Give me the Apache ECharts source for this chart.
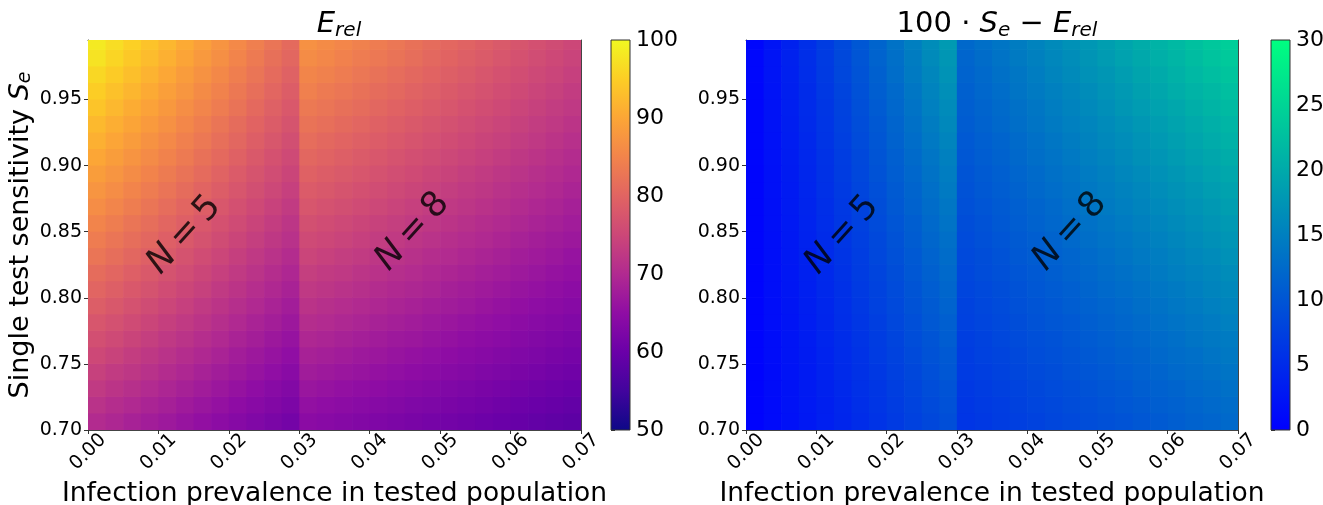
<!DOCTYPE html>
<html>
<head>
<meta charset="utf-8">
<script src="https://cdn.jsdelivr.net/npm/echarts@6/dist/echarts.min.js"></script>
<style>
  html, body { margin: 0; padding: 0; background: #fff; }
  #chart { width: 1323px; height: 505px; }
</style>
</head>
<body>
<div id="chart"></div>
<script>
// ---- data ----
// cell starts along the prevalence axis (width 0.0025) and sensitivity axis (height 0.0125)
const prevalenceStarts = [0.0000, 0.0025, 0.0050, 0.0075, 0.0100, 0.0125, 0.0150, 0.0175, 0.0200, 0.0225,
  0.0250, 0.0275, 0.0300, 0.0325, 0.0350, 0.0375, 0.0400, 0.0425, 0.0450, 0.0475, 0.0500, 0.0525,
  0.0550, 0.0575, 0.0600, 0.0625, 0.0650, 0.0675];
const sensitivityStarts = [0.7000, 0.7125, 0.7250, 0.7375, 0.7500, 0.7625, 0.7750, 0.7875, 0.8000, 0.8125,
  0.8250, 0.8375, 0.8500, 0.8625, 0.8750, 0.8875, 0.9000, 0.9125, 0.9250, 0.9375, 0.9500, 0.9625,
  0.9750, 0.9875];

// E_rel, rows from bottom (Se 0.70) to top
const eRel = [
  [70.2, 69.4, 68.6, 67.8, 67.0, 66.2, 65.4, 64.6, 63.8, 63.0, 62.2, 61.4, 64.4, 64.0, 63.6, 63.2, 62.8, 62.4, 62.0, 61.6, 61.2, 60.8, 60.4, 60.0, 59.6, 59.2, 58.8, 58.4],
  [71.5, 70.6, 69.8, 69.0, 68.2, 67.3, 66.5, 65.7, 64.8, 64.0, 63.2, 62.4, 65.5, 65.0, 64.6, 64.2, 63.8, 63.4, 62.9, 62.5, 62.1, 61.7, 61.3, 60.8, 60.4, 60.0, 59.6, 59.2],
  [72.7, 71.8, 71.0, 70.1, 69.3, 68.4, 67.6, 66.7, 65.9, 65.0, 64.1, 63.3, 66.5, 66.1, 65.6, 65.2, 64.8, 64.3, 63.9, 63.5, 63.0, 62.6, 62.1, 61.7, 61.3, 60.8, 60.4, 60.0],
  [73.9, 73.0, 72.2, 71.3, 70.4, 69.5, 68.6, 67.7, 66.9, 66.0, 65.1, 64.2, 67.5, 67.1, 66.6, 66.2, 65.7, 65.3, 64.8, 64.4, 63.9, 63.5, 63.0, 62.6, 62.1, 61.7, 61.2, 60.8],
  [75.2, 74.3, 73.3, 72.4, 71.5, 70.6, 69.7, 68.8, 67.8, 66.9, 66.0, 65.1, 68.5, 68.1, 67.6, 67.1, 66.7, 66.2, 65.7, 65.3, 64.8, 64.3, 63.9, 63.4, 63.0, 62.5, 62.0, 61.6],
  [76.4, 75.5, 74.5, 73.6, 72.6, 71.7, 70.7, 69.8, 68.8, 67.9, 66.9, 66.0, 69.5, 69.1, 68.6, 68.1, 67.6, 67.1, 66.7, 66.2, 65.7, 65.2, 64.7, 64.3, 63.8, 63.3, 62.8, 62.3],
  [77.6, 76.7, 75.7, 74.7, 73.7, 72.8, 71.8, 70.8, 69.8, 68.8, 67.9, 66.9, 70.6, 70.1, 69.6, 69.1, 68.6, 68.1, 67.6, 67.1, 66.6, 66.1, 65.6, 65.1, 64.6, 64.1, 63.6, 63.1],
  [78.9, 77.9, 76.9, 75.8, 74.8, 73.8, 72.8, 71.8, 70.8, 69.8, 68.8, 67.8, 71.6, 71.0, 70.5, 70.0, 69.5, 69.0, 68.5, 68.0, 67.5, 67.0, 66.4, 65.9, 65.4, 64.9, 64.4, 63.9],
  [80.1, 79.1, 78.0, 77.0, 75.9, 74.9, 73.9, 72.8, 71.8, 70.7, 69.7, 68.7, 72.6, 72.0, 71.5, 71.0, 70.4, 69.9, 69.4, 68.9, 68.3, 67.8, 67.3, 66.8, 66.2, 65.7, 65.2, 64.6],
  [81.3, 80.3, 79.2, 78.1, 77.0, 76.0, 74.9, 73.8, 72.8, 71.7, 70.6, 69.5, 73.6, 73.0, 72.5, 71.9, 71.4, 70.8, 70.3, 69.7, 69.2, 68.7, 68.1, 67.6, 67.0, 66.5, 65.9, 65.4],
  [82.6, 81.5, 80.4, 79.3, 78.2, 77.0, 75.9, 74.8, 73.7, 72.6, 71.5, 70.4, 74.6, 74.0, 73.4, 72.9, 72.3, 71.7, 71.2, 70.6, 70.1, 69.5, 68.9, 68.4, 67.8, 67.3, 66.7, 66.1],
  [83.8, 82.7, 81.5, 80.4, 79.2, 78.1, 77.0, 75.8, 74.7, 73.6, 72.4, 71.3, 75.5, 75.0, 74.4, 73.8, 73.2, 72.7, 72.1, 71.5, 70.9, 70.3, 69.8, 69.2, 68.6, 68.0, 67.4, 66.9],
  [85.0, 83.9, 82.7, 81.5, 80.3, 79.2, 78.0, 76.8, 75.7, 74.5, 73.3, 72.1, 76.5, 75.9, 75.3, 74.7, 74.1, 73.6, 73.0, 72.4, 71.8, 71.2, 70.6, 70.0, 69.4, 68.8, 68.2, 67.6],
  [86.3, 85.1, 83.9, 82.6, 81.4, 80.2, 79.0, 77.8, 76.6, 75.4, 74.2, 73.0, 77.5, 76.9, 76.3, 75.7, 75.1, 74.4, 73.8, 73.2, 72.6, 72.0, 71.4, 70.8, 70.2, 69.5, 68.9, 68.3],
  [87.5, 86.3, 85.0, 83.8, 82.5, 81.3, 80.0, 78.8, 77.6, 76.3, 75.1, 73.8, 78.5, 77.9, 77.2, 76.6, 76.0, 75.3, 74.7, 74.1, 73.4, 72.8, 72.2, 71.5, 70.9, 70.3, 69.7, 69.0],
  [88.7, 87.5, 86.2, 84.9, 83.6, 82.3, 81.1, 79.8, 78.5, 77.2, 76.0, 74.7, 79.5, 78.8, 78.2, 77.5, 76.9, 76.2, 75.6, 74.9, 74.3, 73.6, 73.0, 72.3, 71.7, 71.0, 70.4, 69.7],
  [90.0, 88.7, 87.3, 86.0, 84.7, 83.4, 82.1, 80.8, 79.5, 78.1, 76.8, 75.5, 80.4, 79.8, 79.1, 78.4, 77.8, 77.1, 76.4, 75.8, 75.1, 74.4, 73.8, 73.1, 72.4, 71.8, 71.1, 70.4],
  [91.2, 89.8, 88.5, 87.1, 85.8, 84.4, 83.1, 81.7, 80.4, 79.0, 77.7, 76.3, 81.4, 80.7, 80.0, 79.3, 78.7, 78.0, 77.3, 76.6, 75.9, 75.2, 74.5, 73.9, 73.2, 72.5, 71.8, 71.1],
  [92.4, 91.0, 89.7, 88.3, 86.9, 85.5, 84.1, 82.7, 81.3, 79.9, 78.6, 77.2, 82.4, 81.7, 81.0, 80.3, 79.5, 78.8, 78.1, 77.4, 76.7, 76.0, 75.3, 74.6, 73.9, 73.2, 72.5, 71.8],
  [93.7, 92.2, 90.8, 89.4, 88.0, 86.5, 85.1, 83.7, 82.3, 80.8, 79.4, 78.0, 83.3, 82.6, 81.9, 81.2, 80.4, 79.7, 79.0, 78.3, 77.5, 76.8, 76.1, 75.4, 74.6, 73.9, 73.2, 72.5],
  [94.9, 93.4, 92.0, 90.5, 89.0, 87.6, 86.1, 84.7, 83.2, 81.7, 80.3, 78.8, 84.3, 83.5, 82.8, 82.1, 81.3, 80.6, 79.8, 79.1, 78.3, 77.6, 76.9, 76.1, 75.4, 74.6, 73.9, 73.1],
  [96.1, 94.6, 93.1, 91.6, 90.1, 88.6, 87.1, 85.6, 84.1, 82.6, 81.1, 79.6, 85.2, 84.5, 83.7, 82.9, 82.2, 81.4, 80.7, 79.9, 79.1, 78.4, 77.6, 76.8, 76.1, 75.3, 74.6, 73.8],
  [97.4, 95.8, 94.3, 92.7, 91.2, 89.7, 88.1, 86.6, 85.0, 83.5, 81.9, 80.4, 86.2, 85.4, 84.6, 83.8, 83.1, 82.3, 81.5, 80.7, 79.9, 79.1, 78.4, 77.6, 76.8, 76.0, 75.2, 74.4],
  [98.3, 96.8, 95.2, 93.6, 92.1, 90.5, 88.9, 87.3, 85.8, 84.2, 82.6, 81.0, 86.9, 86.1, 85.3, 84.5, 83.7, 82.9, 82.1, 81.3, 80.5, 79.8, 79.0, 78.2, 77.4, 76.6, 75.8, 75.0]
];

// 100*Se - E_rel, rows from bottom to top
const seMinusERel = [
  [0.4, 1.2, 2.0, 2.8, 3.6, 4.4, 5.2, 6.0, 6.8, 7.6, 8.4, 9.2, 6.2, 6.6, 7.0, 7.4, 7.8, 8.2, 8.6, 9.0, 9.4, 9.8, 10.2, 10.6, 11.1, 11.5, 11.9, 12.3],
  [0.4, 1.2, 2.1, 2.9, 3.7, 4.5, 5.4, 6.2, 7.0, 7.9, 8.7, 9.5, 6.4, 6.8, 7.2, 7.7, 8.1, 8.5, 8.9, 9.3, 9.8, 10.2, 10.6, 11.0, 11.4, 11.9, 12.3, 12.7],
  [0.4, 1.3, 2.1, 3.0, 3.9, 4.7, 5.6, 6.4, 7.3, 8.1, 9.0, 9.8, 6.6, 7.1, 7.5, 7.9, 8.4, 8.8, 9.2, 9.7, 10.1, 10.5, 11.0, 11.4, 11.8, 12.3, 12.7, 13.2],
  [0.4, 1.3, 2.2, 3.1, 4.0, 4.9, 5.8, 6.6, 7.5, 8.4, 9.3, 10.2, 6.9, 7.3, 7.8, 8.2, 8.7, 9.1, 9.6, 10.0, 10.5, 10.9, 11.4, 11.8, 12.3, 12.7, 13.2, 13.6],
  [0.5, 1.4, 2.3, 3.2, 4.1, 5.0, 5.9, 6.9, 7.8, 8.7, 9.6, 10.5, 7.1, 7.6, 8.0, 8.5, 9.0, 9.4, 9.9, 10.3, 10.8, 11.3, 11.7, 12.2, 12.7, 13.1, 13.6, 14.1],
  [0.5, 1.4, 2.4, 3.3, 4.3, 5.2, 6.1, 7.1, 8.0, 9.0, 9.9, 10.9, 7.3, 7.8, 8.3, 8.8, 9.3, 9.7, 10.2, 10.7, 11.2, 11.7, 12.1, 12.6, 13.1, 13.6, 14.1, 14.5],
  [0.5, 1.5, 2.4, 3.4, 4.4, 5.4, 6.3, 7.3, 8.3, 9.3, 10.3, 11.2, 7.6, 8.1, 8.6, 9.1, 9.6, 10.1, 10.5, 11.0, 11.5, 12.0, 12.5, 13.0, 13.5, 14.0, 14.5, 15.0],
  [0.5, 1.5, 2.5, 3.5, 4.5, 5.5, 6.6, 7.6, 8.6, 9.6, 10.6, 11.6, 7.8, 8.3, 8.8, 9.4, 9.9, 10.4, 10.9, 11.4, 11.9, 12.4, 12.9, 13.4, 14.0, 14.5, 15.0, 15.5],
  [0.5, 1.6, 2.6, 3.6, 4.7, 5.7, 6.8, 7.8, 8.8, 9.9, 10.9, 12.0, 8.1, 8.6, 9.1, 9.6, 10.2, 10.7, 11.2, 11.8, 12.3, 12.8, 13.3, 13.9, 14.4, 14.9, 15.5, 16.0],
  [0.5, 1.6, 2.7, 3.8, 4.8, 5.9, 7.0, 8.0, 9.1, 10.2, 11.3, 12.3, 8.3, 8.9, 9.4, 10.0, 10.5, 11.0, 11.6, 12.1, 12.7, 13.2, 13.8, 14.3, 14.9, 15.4, 15.9, 16.5],
  [0.6, 1.7, 2.8, 3.9, 5.0, 6.1, 7.2, 8.3, 9.4, 10.5, 11.6, 12.7, 8.6, 9.1, 9.7, 10.3, 10.8, 11.4, 11.9, 12.5, 13.1, 13.6, 14.2, 14.7, 15.3, 15.9, 16.4, 17.0],
  [0.6, 1.7, 2.8, 4.0, 5.1, 6.3, 7.4, 8.5, 9.7, 10.8, 12.0, 13.1, 8.8, 9.4, 10.0, 10.6, 11.1, 11.7, 12.3, 12.9, 13.5, 14.0, 14.6, 15.2, 15.8, 16.4, 16.9, 17.5],
  [0.6, 1.8, 2.9, 4.1, 5.3, 6.5, 7.6, 8.8, 10.0, 11.1, 12.3, 13.5, 9.1, 9.7, 10.3, 10.9, 11.5, 12.1, 12.7, 13.3, 13.9, 14.5, 15.1, 15.6, 16.2, 16.8, 17.4, 18.0],
  [0.6, 1.8, 3.0, 4.2, 5.4, 6.6, 7.8, 9.1, 10.3, 11.5, 12.7, 13.9, 9.4, 10.0, 10.6, 11.2, 11.8, 12.4, 13.0, 13.7, 14.3, 14.9, 15.5, 16.1, 16.7, 17.3, 17.9, 18.6],
  [0.6, 1.9, 3.1, 4.3, 5.6, 6.8, 8.1, 9.3, 10.6, 11.8, 13.0, 14.3, 9.6, 10.3, 10.9, 11.5, 12.2, 12.8, 13.4, 14.1, 14.7, 15.3, 15.9, 16.6, 17.2, 17.8, 18.5, 19.1],
  [0.6, 1.9, 3.2, 4.5, 5.8, 7.0, 8.3, 9.6, 10.9, 12.1, 13.4, 14.7, 9.9, 10.6, 11.2, 11.9, 12.5, 13.2, 13.8, 14.5, 15.1, 15.8, 16.4, 17.0, 17.7, 18.3, 19.0, 19.6],
  [0.7, 2.0, 3.3, 4.6, 5.9, 7.2, 8.5, 9.9, 11.2, 12.5, 13.8, 15.1, 10.2, 10.9, 11.5, 12.2, 12.9, 13.5, 14.2, 14.9, 15.5, 16.2, 16.9, 17.5, 18.2, 18.9, 19.5, 20.2],
  [0.7, 2.0, 3.4, 4.7, 6.1, 7.4, 8.8, 10.1, 11.5, 12.8, 14.2, 15.5, 10.5, 11.2, 11.8, 12.5, 13.2, 13.9, 14.6, 15.3, 16.0, 16.6, 17.3, 18.0, 18.7, 19.4, 20.1, 20.8],
  [0.7, 2.1, 3.5, 4.9, 6.2, 7.6, 9.0, 10.4, 11.8, 13.2, 14.6, 16.0, 10.8, 11.5, 12.2, 12.9, 13.6, 14.3, 15.0, 15.7, 16.4, 17.1, 17.8, 18.5, 19.2, 19.9, 20.6, 21.3],
  [0.7, 2.1, 3.6, 5.0, 6.4, 7.8, 9.3, 10.7, 12.1, 13.5, 15.0, 16.4, 11.0, 11.8, 12.5, 13.2, 13.9, 14.7, 15.4, 16.1, 16.8, 17.6, 18.3, 19.0, 19.7, 20.5, 21.2, 21.9],
  [0.7, 2.2, 3.7, 5.1, 6.6, 8.0, 9.5, 11.0, 12.4, 13.9, 15.4, 16.8, 11.3, 12.1, 12.8, 13.6, 14.3, 15.1, 15.8, 16.5, 17.3, 18.0, 18.8, 19.5, 20.3, 21.0, 21.7, 22.5],
  [0.8, 2.3, 3.8, 5.3, 6.8, 8.3, 9.8, 11.3, 12.8, 14.3, 15.8, 17.3, 11.6, 12.4, 13.2, 13.9, 14.7, 15.5, 16.2, 17.0, 17.7, 18.5, 19.3, 20.0, 20.8, 21.6, 22.3, 23.1],
  [0.8, 2.3, 3.9, 5.4, 6.9, 8.5, 10.0, 11.6, 13.1, 14.6, 16.2, 17.7, 11.9, 12.7, 13.5, 14.3, 15.1, 15.9, 16.6, 17.4, 18.2, 19.0, 19.8, 20.6, 21.3, 22.1, 22.9, 23.7],
  [0.8, 2.4, 3.9, 5.5, 7.1, 8.6, 10.2, 11.8, 13.4, 14.9, 16.5, 18.1, 12.2, 13.0, 13.8, 14.6, 15.4, 16.2, 17.0, 17.8, 18.6, 19.4, 20.2, 21.0, 21.8, 22.6, 23.4, 24.2]
];

const xTicks = [0.00, 0.01, 0.02, 0.03, 0.04, 0.05, 0.06, 0.07];
const yTicks = [0.70, 0.75, 0.80, 0.85, 0.90, 0.95];
const leftBarTicks = [50, 60, 70, 80, 90, 100];
const rightBarTicks = [0, 5, 10, 15, 20, 25, 30];
const annotationLabels = ['5', '8'];
const annotationX = [0.0137, 0.0461];
const annotationY = [0.8475, 0.850];

// ---- colour maps ----
const plasma = ['#0d0887', '#41049d', '#6a00a8', '#8f0da4', '#b12a90', '#cc4778',
                '#e16462', '#f2844b', '#fca636', '#fcce25', '#f0f921'];
const winter = ['#0000ff', '#00ff80'];

// ---- build series data ----
function buildCells(values) {
  const out = [];
  for (let i = 0; i < sensitivityStarts.length; i++) {
    for (let j = 0; j < prevalenceStarts.length; j++) {
      out.push([prevalenceStarts[j], sensitivityStarts[i], values[i][j]]);
    }
  }
  return out;
}
const cellW = prevalenceStarts[1] - prevalenceStarts[0];
const cellH = sensitivityStarts[1] - sensitivityStarts[0];

function renderCell(params, api) {
  const x0 = api.value(0), y0 = api.value(1);
  const p0 = api.coord([x0, y0]);
  const p1 = api.coord([x0 + cellW, y0 + cellH]);
  const c = api.visual('color');
  // slight overlap with the neighbours so no seams show
  return {
    type: 'rect',
    shape: { x: p0[0], y: p1[1] - 0.7, width: p1[0] - p0[0] + 0.7, height: p0[1] - p1[1] + 0.7 },
    style: { fill: c }
  };
}

function makeBarRenderer(colors) {
  return function (params, api) {
    const p0 = api.coord([0, api.value(1)]);
    const p1 = api.coord([1, api.value(2)]);
    const stops = colors.map((c, k) => ({ offset: k / (colors.length - 1), color: c }));
    return {
      type: 'rect',
      shape: { x: p0[0], y: p1[1], width: p1[0] - p0[0], height: p0[1] - p1[1] },
      style: {
        fill: new echarts.graphic.LinearGradient(0, 1, 0, 0, stops),
        stroke: '#333', lineWidth: 1
      }
    };
  };
}

const FONT = 'DejaVu Sans';
const tickLabel = { fontSize: 19, color: '#000', fontFamily: FONT };

function heatXAxis(gridIndex) {
  return [{
    type: 'value', gridIndex, min: 0, max: 0.07, position: 'bottom',
    name: 'Infection prevalence in tested population',
    nameLocation: 'middle', nameGap: 41,
    nameTextStyle: { fontSize: 26.5, color: '#000', fontFamily: FONT },
    axisLine: { show: true, onZero: false, lineStyle: { color: '#444', width: 1 } },
    axisTick: { show: true, length: 4, customValues: xTicks, lineStyle: { color: '#333' } },
    axisLabel: Object.assign({ rotate: 45, margin: 22, align: 'center', verticalAlign: 'middle',
      customValues: xTicks, formatter: v => v.toFixed(2) }, tickLabel),
    splitLine: { show: false }
  }, {
    type: 'value', gridIndex, min: 0, max: 0.07, position: 'top',
    axisLine: { show: true, onZero: false, lineStyle: { color: '#444', width: 1 } },
    axisTick: { show: false }, axisLabel: { show: false }, splitLine: { show: false }
  }];
}

function heatYAxis(gridIndex, withName) {
  const ax = {
    type: 'value', gridIndex, min: 0.7, max: 0.995, position: 'left',
    axisLine: { show: true, onZero: false, lineStyle: { color: '#444', width: 1 } },
    axisTick: { show: true, length: 4, customValues: yTicks, lineStyle: { color: '#333' } },
    axisLabel: Object.assign({ margin: 6, customValues: yTicks,
      formatter: v => v.toFixed(2) }, tickLabel),
    splitLine: { show: false }
  };
  if (withName) {
    ax.name = '{n|Single test sensitivity }{i|S}{s|e}';
    ax.nameLocation = 'middle';
    ax.nameRotate = 90;
    ax.nameGap = 53;
    ax.nameTextStyle = {
      color: '#000', fontFamily: FONT,
      rich: {
        n: { fontSize: 27, fontFamily: FONT, color: '#000' },
        i: { fontSize: 27, fontFamily: FONT, fontStyle: 'italic', color: '#000' },
        s: { fontSize: 19, fontFamily: FONT, fontStyle: 'italic', color: '#000', padding: [10, 0, 0, 0] }
      }
    };
  }
  return [ax, {
    type: 'value', gridIndex, min: 0.7, max: 0.995, position: 'right',
    axisLine: { show: true, onZero: false, lineStyle: { color: '#444', width: 1 } },
    axisTick: { show: false }, axisLabel: { show: false }, splitLine: { show: false }
  }];
}

function barYAxis(gridIndex, min, max, ticks) {
  return {
    type: 'value', gridIndex, min, max, position: 'right',
    axisLine: { show: false },
    axisTick: { show: true, length: 4, customValues: ticks, lineStyle: { color: '#333' } },
    axisLabel: { margin: 6, customValues: ticks, fontSize: 22, color: '#000', fontFamily: FONT },
    splitLine: { show: false }
  };
}
function barXAxis(gridIndex) {
  return { type: 'value', gridIndex, min: 0, max: 1, show: false };
}

const titleRich = {
  n: { fontSize: 29, fontFamily: FONT, fontWeight: 'normal', color: '#000' },
  i: { fontSize: 29, fontFamily: FONT, fontWeight: 'normal', fontStyle: 'italic', color: '#000' },
  s: { fontSize: 20, fontFamily: FONT, fontWeight: 'normal', fontStyle: 'italic', color: '#000', padding: [14, 0, 0, 0] }
};

const annRich = {
  i: { fontSize: 35, fontFamily: FONT, fontStyle: 'italic', color: '#000' },
  t: { fontSize: 35, fontFamily: FONT, color: '#000' }
};
function annotationSeries(xIdx, yIdx) {
  return {
    type: 'scatter', xAxisIndex: xIdx, yAxisIndex: yIdx, symbolSize: 0, z: 10,
    silent: true,
    data: annotationLabels.map((t, k) => ({ name: t, value: [annotationX[k], annotationY[k]] })),
    label: {
      show: true, position: 'inside', rotate: 48,
      formatter: p => '{i|N}{t|\u2009=\u2009' + p.name + '}',
      rich: annRich
    }
  };
}

const gridBase = { outerBoundsMode: 'none', containLabel: false };

const chart = echarts.init(document.getElementById('chart'), null, { renderer: 'canvas' });
chart.setOption({
  animation: false,
  backgroundColor: '#fff',
  textStyle: { fontFamily: FONT },
  title: [
    { text: '{i|E}{s|rel}', left: 334, top: 2, textAlign: 'center',
      textStyle: { fontWeight: 'normal', rich: titleRich } },
    { text: '{n|100 · }{i|S}{s|e}{n| − }{i|E}{s|rel}', left: 992, top: 2, textAlign: 'center',
      textStyle: { fontWeight: 'normal', rich: titleRich } }
  ],
  grid: [
    Object.assign({ left: 88, top: 40, width: 493, height: 390 }, gridBase),
    Object.assign({ left: 611, top: 40, width: 19, height: 390 }, gridBase),
    Object.assign({ left: 746, top: 40, width: 492, height: 390 }, gridBase),
    Object.assign({ left: 1271, top: 40, width: 19, height: 390 }, gridBase)
  ],
  xAxis: [
    ...heatXAxis(0),
    barXAxis(1),
    ...heatXAxis(2),
    barXAxis(3)
  ],
  yAxis: [
    ...heatYAxis(0, true),
    barYAxis(1, 50, 100, leftBarTicks),
    ...heatYAxis(2, false),
    barYAxis(3, 0, 30, rightBarTicks)
  ],
  visualMap: [
    { type: 'continuous', show: false, seriesIndex: 0, dimension: 2, min: 50, max: 100,
      inRange: { color: plasma } },
    { type: 'continuous', show: false, seriesIndex: 2, dimension: 2, min: 0, max: 30,
      inRange: { color: winter } }
  ],
  series: [
    { type: 'custom', xAxisIndex: 0, yAxisIndex: 0, renderItem: renderCell, clip: true,
      encode: { x: 0, y: 1 }, data: buildCells(eRel), silent: true },
    { type: 'custom', xAxisIndex: 2, yAxisIndex: 2, renderItem: makeBarRenderer(plasma),
      encode: { x: 0, y: [1, 2] }, data: [[0, 50, 100]], silent: true },
    { type: 'custom', xAxisIndex: 3, yAxisIndex: 3, renderItem: renderCell, clip: true,
      encode: { x: 0, y: 1 }, data: buildCells(seMinusERel), silent: true },
    { type: 'custom', xAxisIndex: 5, yAxisIndex: 5, renderItem: makeBarRenderer(winter),
      encode: { x: 0, y: [1, 2] }, data: [[0, 0, 30]], silent: true },
    annotationSeries(0, 0),
    annotationSeries(3, 3)
  ]
});
</script>
</body>
</html>
